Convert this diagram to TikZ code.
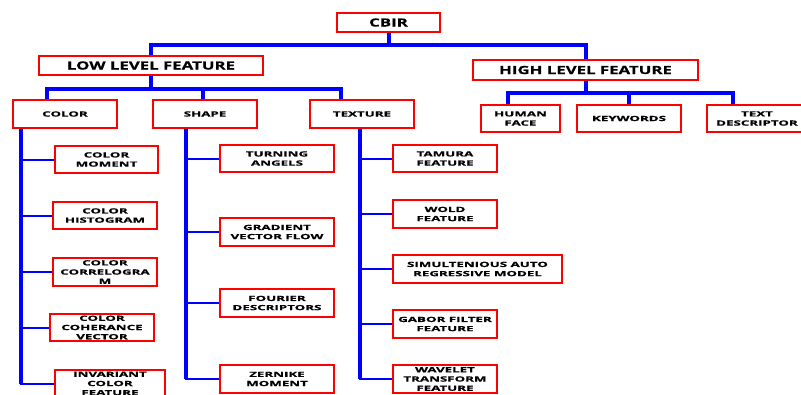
\documentclass[tikz,border=0pt]{standalone}
\usepackage{fontspec}
\newfontfamily\headfont{Open Sans}[FakeStretch=1.5, BoldFeatures={FakeBold=0.6}]
\newfontfamily\lblfont{Open Sans}[FakeStretch=1.85, BoldFeatures={FakeBold=0.9}]
\usetikzlibrary{positioning}

\tikzset{
  box/.style={draw=red, line width=1.1pt, fill=white, align=center, inner sep=0pt,
    font=\lblfont\bfseries\fontsize{7.2}{9.2}\selectfont},
  headbox/.style={box, font=\headfont\bfseries\fontsize{11.2}{12}\selectfont},
  trunk/.style={draw=blue, line width=4pt},
  twig/.style={draw=blue, line width=2pt},
}

\begin{document}
\begin{tikzpicture}[x=1pt,y=-1pt]
  \useasboundingbox (0,0) rectangle (801,394);

  % top levels
  \node(cbir)[headbox, minimum width=103, minimum height=19] at (388.5,22.5) {CBIR};
  \node(llf)[headbox, minimum width=224, minimum height=19] at (151,65.5) {LOW LEVEL FEATURE};
  \node(hlf)[headbox, minimum width=225, minimum height=20] at (585.5,70) {HIGH LEVEL FEATURE};

  \node(color)[box, minimum width=104, minimum height=28] at (65,114) {COLOR};
  \node(shape)[box, minimum width=104, minimum height=28] at (205,114) {SHAPE};
  \node(texture)[box, minimum width=104, minimum height=28] at (362,114) {TEXTURE};

  \node(face)[box, minimum width=79, minimum height=27] at (520.5,118.5) {HUMAN\\FACE};
  \node(keywords)[box, minimum width=104, minimum height=27] at (629,118.5) {KEYWORDS};
  \node(textdesc)[box, minimum width=100, minimum height=27] at (757,118.5) {TEXT\\DESCRIPTOR};

  % color features
  \node(cmom)[box, minimum width=103, minimum height=27] at (106.5,159.5) {COLOR\\MOMENT};
  \node(chist)[box, minimum width=104, minimum height=27] at (105,215.5) {COLOR\\HISTOGRAM};
  \node(ccorr)[box, minimum width=104, minimum height=28] at (105,272) {COLOR\\CORRELOGRA\\M};
  \node(ccoh)[box, minimum width=104, minimum height=27] at (102,327.5) {COLOR\\COHERANCE\\VECTOR};
  \node(cinv)[box, minimum width=110, minimum height=27] at (110,383.5) {INVARIANT\\COLOR\\FEATURE};

  % shape features
  \node(sturn)[box, minimum width=114, minimum height=27] at (277,158.5) {TURNING\\ANGELS};
  \node(sgrad)[box, minimum width=114, minimum height=28] at (277,232) {GRADIENT\\VECTOR FLOW};
  \node(sfour)[box, minimum width=114, minimum height=28] at (277,303) {FOURIER\\DESCRIPTORS};
  \node(szern)[box, minimum width=114, minimum height=28] at (277,379) {ZERNIKE\\MOMENT};

  % texture features
  \node(ttam)[box, minimum width=104, minimum height=27] at (445,158.5) {TAMURA\\FEATURE};
  \node(twold)[box, minimum width=104, minimum height=28] at (445,214) {WOLD\\FEATURE};
  \node(tsar)[box, minimum width=169, minimum height=28] at (477.5,269) {SIMULTENIOUS AUTO\\REGRESSIVE MODEL};
  \node(tgab)[box, minimum width=104, minimum height=28] at (445,324) {GABOR FILTER\\FEATURE};
  \node(twav)[box, minimum width=104, minimum height=28] at (445,379) {WAVELET\\TRANSFORM\\FEATURE};

  % bus lines
  \draw[trunk] (cbir.south) -- ++(0,12) -| (llf.north);
  \draw[trunk] (cbir.south) -- ++(0,12) -| (hlf.north);

  \draw[trunk] (llf.south) -- ++(0,13) -| ([xshift=-18pt]color.north);
  \draw[trunk] (llf.south) -- ++(0,13) -| ([xshift=-2pt]shape.north);
  \draw[trunk] (llf.south) -- ++(0,13) -| ([xshift=-21pt]texture.north);

  \draw[trunk] (hlf.south) -- ++(0,12) -| ([xshift=-12.5pt]face.north);
  \draw[trunk] (hlf.south) -- ++(0,12) -| (keywords.north);
  \draw[trunk] (hlf.south) -- ++(0,12) -| ([xshift=-24pt]textdesc.north);

  % color branch
  \draw[twig] ([xshift=9pt]color.south west) |- (cmom.west);
  \draw[twig] ([xshift=9pt]color.south west) |- (chist.west);
  \draw[twig] ([xshift=9pt]color.south west) |- (ccorr.west);
  \draw[twig] ([xshift=9pt]color.south west) |- (ccoh.west);
  \draw[twig] ([xshift=9pt]color.south west) |- (cinv.west);
  \draw[trunk] ([xshift=9pt]color.south west) -- ([xshift=9pt]color.south west |- cinv.west);

  % shape branch
  \draw[twig] ([xshift=34pt]shape.south west) |- (sturn.west);
  \draw[twig] ([xshift=34pt]shape.south west) |- (sgrad.west);
  \draw[twig] ([xshift=34pt]shape.south west) |- (sfour.west);
  \draw[twig] ([xshift=34pt]shape.south west) |- (szern.west);
  \draw[trunk] ([xshift=34pt]shape.south west) -- ([xshift=34pt]shape.south west |- szern.west);

  % texture branch
  \draw[twig] ([xshift=51pt]texture.south west) |- (ttam.west);
  \draw[twig] ([xshift=51pt]texture.south west) |- (twold.west);
  \draw[twig] ([xshift=51pt]texture.south west) |- (tsar.west);
  \draw[twig] ([xshift=51pt]texture.south west) |- (tgab.west);
  \draw[twig] ([xshift=51pt]texture.south west) |- (twav.west);
  \draw[trunk] ([xshift=51pt]texture.south west) -- ([xshift=51pt]texture.south west |- twav.west);
\end{tikzpicture}
\end{document}
